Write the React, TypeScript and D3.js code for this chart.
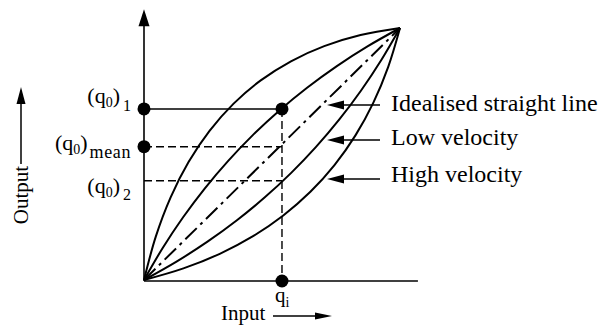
import React from "react";
import * as d3 from "d3";

// ---- data (normalised input/output, 0..1) ----
const straightLine: [number, number][] = [[0, 0], [1, 1]];
const highUpper: [number, number][] = [
  [0, 0], [0.046, 0.172], [0.104, 0.328], [0.174, 0.468], [0.256, 0.592], [0.35, 0.7],
  [0.456, 0.792], [0.574, 0.868], [0.704, 0.928], [0.846, 0.972], [1, 1],
];
const highLower: [number, number][] = [
  [0, 0], [0.154, 0.046], [0.296, 0.104], [0.426, 0.174], [0.544, 0.256], [0.65, 0.35],
  [0.744, 0.456], [0.826, 0.574], [0.896, 0.704], [0.954, 0.846], [1, 1],
];
const lowUpper: [number, number][] = [
  [0, 0], [0.073, 0.127], [0.152, 0.248], [0.237, 0.363], [0.328, 0.472], [0.425, 0.575],
  [0.528, 0.672], [0.637, 0.763], [0.752, 0.848], [0.873, 0.927], [1, 1],
];
const lowLower: [number, number][] = [
  [0, 0], [0.127, 0.073], [0.248, 0.152], [0.363, 0.237], [0.472, 0.328], [0.575, 0.425],
  [0.672, 0.528], [0.763, 0.637], [0.848, 0.752], [0.927, 0.873], [1, 1],
];
const inputQi = 0.539;
const outQ1 = 0.679;
const outQmean = 0.529;
const outQ2 = 0.394;
const legendLabels = ["Idealised straight line", "Low velocity", "High velocity"];

const FONT = "'Liberation Serif', 'Times New Roman', serif";

export default function App() {
  const x = d3.scaleLinear().domain([0, 1]).range([144, 400]);
  const y = d3.scaleLinear().domain([0, 1]).range([280, 28]);
  const line = d3
    .line<[number, number]>()
    .x((d) => x(d[0]))
    .y((d) => y(d[1]))
    .curve(d3.curveCatmullRom.alpha(0.5));
  const straight = d3
    .line<[number, number]>()
    .x((d) => x(d[0]))
    .y((d) => y(d[1]));

  const x0 = x(0);
  const y0 = y(0);
  const yTop = y(1.07);
  const xEnd = x(1.07);
  const xi = x(inputQi);

  const legendArrowY = [105, 140, 179];
  const legendTextY = [111, 145, 182];
  const arrowTip = 327;
  const arrowEnd = 380;

  return (
    <svg
      width={606}
      height={325}
      style={{ position: "absolute", left: 0, top: 0, display: "block", background: "#fff" }}
      fontFamily={FONT}
    >
      <rect width={606} height={325} fill="#fff" />
      {/* axes */}
      <line x1={x0} y1={y0 + 1} x2={x0} y2={yTop + 8} stroke="#000" strokeWidth={1.6} />
      <polygon points={`${x0},${yTop - 1} ${x0 - 5.5},${yTop + 16} ${x0 + 5.5},${yTop + 16}`} fill="#000" />
      <line x1={x0} y1={y0 + 1} x2={xEnd} y2={y0 + 1} stroke="#000" strokeWidth={1.6} />

      {/* curves */}
      <path d={line(highUpper) || ""} fill="none" stroke="#000" strokeWidth={2} />
      <path d={line(highLower) || ""} fill="none" stroke="#000" strokeWidth={2} />
      <path d={line(lowUpper) || ""} fill="none" stroke="#000" strokeWidth={2} />
      <path d={line(lowLower) || ""} fill="none" stroke="#000" strokeWidth={2} />
      <path d={straight(straightLine) || ""} fill="none" stroke="#000" strokeWidth={2} strokeDasharray="16 5 3 5" />

      {/* reference lines */}
      <line x1={x0} y1={y(outQ1)} x2={xi} y2={y(outQ1)} stroke="#000" strokeWidth={1.5} />
      <line x1={x0} y1={y(outQmean)} x2={xi} y2={y(outQmean)} stroke="#000" strokeWidth={1.4} strokeDasharray="8 4" />
      <line x1={x0} y1={y(outQ2)} x2={xi} y2={y(outQ2)} stroke="#000" strokeWidth={1.4} strokeDasharray="8 4" />
      <line x1={xi} y1={y(outQ1)} x2={xi} y2={y0} stroke="#000" strokeWidth={1.4} strokeDasharray="8 4" />

      {/* dots */}
      <circle cx={x0} cy={y(outQ1)} r={6.5} fill="#000" />
      <circle cx={x0} cy={y(outQmean)} r={6.5} fill="#000" />
      <circle cx={xi} cy={y(outQ1)} r={6.5} fill="#000" />
      <circle cx={xi} cy={y0 + 1} r={6.5} fill="#000" />

      {/* left labels */}
      <text x={131} y={y(outQ1) - 6} textAnchor="end" fontSize={22}>
        (q<tspan fontSize={14} dy={4}>0</tspan>
        <tspan dy={-4}>)</tspan>
        <tspan fontSize={16} dy={8} dx={3}>1</tspan>
      </text>
      <text x={131} y={y(outQmean) + 3} textAnchor="end" fontSize={22}>
        (q<tspan fontSize={14} dy={4}>0</tspan>
        <tspan dy={-4}>)</tspan>
        <tspan fontSize={18} dy={8} dx={2} letterSpacing={0.6}>mean</tspan>
      </text>
      <text x={131} y={y(outQ2) + 12} textAnchor="end" fontSize={22}>
        (q<tspan fontSize={14} dy={4}>0</tspan>
        <tspan dy={-4}>)</tspan>
        <tspan fontSize={16} dy={7} dx={3}>2</tspan>
      </text>

      {/* q_i label */}
      <text x={xi - 7} y={302} fontSize={21}>
        q<tspan fontSize={14} dy={5}>i</tspan>
      </text>

      {/* Input label */}
      <text x={221} y={320} fontSize={21}>Input</text>
      <line x1={273} y1={316} x2={318} y2={316} stroke="#000" strokeWidth={1.5} />
      <polygon points={`332,316 315,312.5 315,319.5`} fill="#000" />

      {/* Output label */}
      <text transform="translate(28,195) rotate(-90)" textAnchor="middle" fontSize={21}>Output</text>
      <line x1={21} y1={164} x2={21} y2={100} stroke="#000" strokeWidth={1.5} />
      <polygon points={`21,87 16.5,104 25.5,104`} fill="#000" />

      {/* legend arrows */}
      {legendLabels.map((lab, i) => (
        <g key={lab}>
          <line x1={arrowTip + 12} y1={legendArrowY[i]} x2={arrowEnd} y2={legendArrowY[i]} stroke="#000" strokeWidth={1.5} />
          <polygon
            points={`${arrowTip},${legendArrowY[i]} ${arrowTip + 17},${legendArrowY[i] - 4.5} ${arrowTip + 17},${legendArrowY[i] + 4.5}`}
            fill="#000"
          />
          <text x={391} y={legendTextY[i]} fontSize={24}>{lab}</text>
        </g>
      ))}
    </svg>
  );
}
